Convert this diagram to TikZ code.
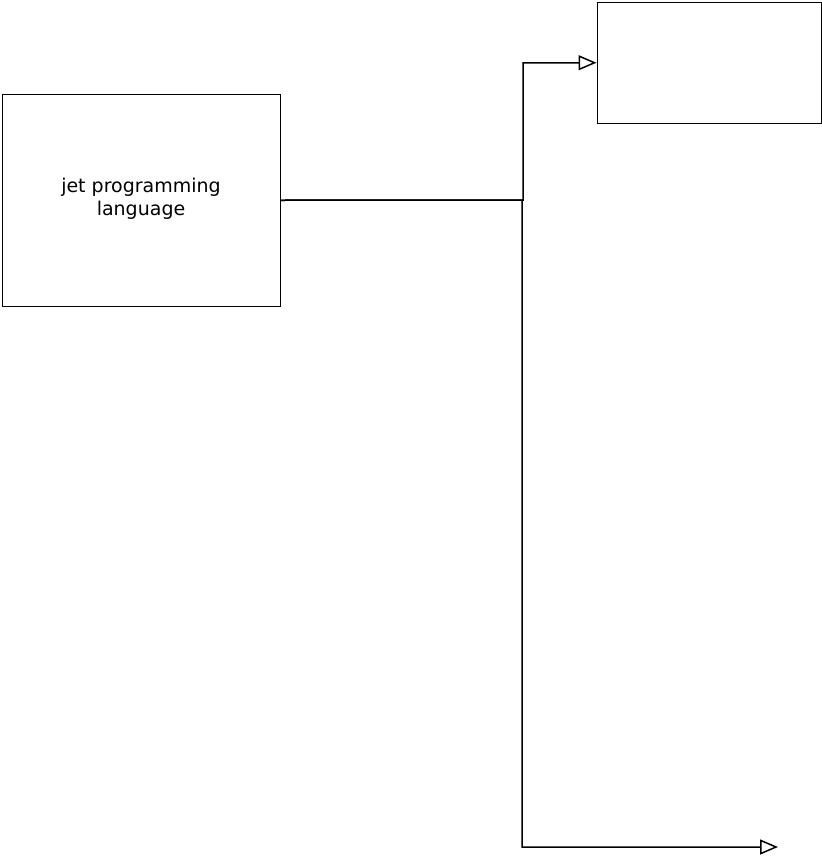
\documentclass[tikz,border=0pt]{standalone}
\usepackage{fontspec}
\setmainfont{DejaVu Sans}
\usetikzlibrary{arrows.meta}
\begin{document}
\begin{tikzpicture}[x=1pt,y=-1pt,
  box/.style={draw, line width=1.5pt, inner sep=0pt, anchor=north west},
  conn/.style={draw, line width=1.5pt, -{Triangle[open, length=18pt, width=15pt]}},
  lbl/.style={font=\fontsize{19}{23}\selectfont, align=center}]
\useasboundingbox (0,0) rectangle (822,865);
\node[box, minimum width=278pt, minimum height=212pt] (a) at (1.5,93.5) {};
\node[lbl] (t) at (141,199) {jet programming\\language};
\node[box, minimum width=224pt, minimum height=121pt] (b) at (596.5,1.5) {};
\coordinate (e) at (778,847);
\draw[conn] (a.east) -- (523,200) |- (b.west);
\draw[conn] (a.east) -- (522,200) |- (e);
\end{tikzpicture}
\end{document}
